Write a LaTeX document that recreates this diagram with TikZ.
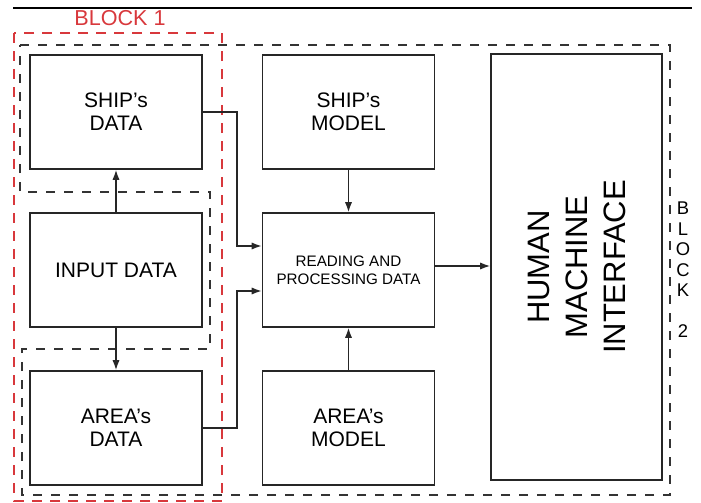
\documentclass[tikz,border=0pt]{standalone}
\usepackage{fontspec}
\setmainfont{Liberation Sans}
\usepackage{tikz}
\usetikzlibrary{%
        arrows.meta,
        positioning,
    }
\definecolor{blockred}{HTML}{D8383C}
\definecolor{dashgray}{HTML}{333333}
\tikzset{%
    datablock/.style={%
        draw=black!85,
        line width=0.8pt,
        minimum width=86pt,
        minimum height=57pt,
        align=center,
        font=\fontsize{10.5}{11.5}\selectfont,
    },
    flow/.style={%
        -{Latex[length=5pt, width=3.6pt]},
        line width=0.7pt,
        draw=black!85,
    },
    blockline/.style={%
        line width=1.05pt,
        dash pattern=on 4.5pt off 4.5pt,
    },
}

\begin{document}
\begin{tikzpicture}[x=0.5pt, y=-0.5pt]

    \useasboundingbox (0, 0) rectangle (701, 503);
    \draw[line width=0.6pt] (13, 8) -- (692, 8);

    %%%%%%%%%%
    % Blocks %
    %%%%%%%%%%
    \draw[blockline, draw=dashgray]
        (20, 45) -- (670, 45) -- (670, 495) -- (22, 495) -- (22, 349)
        -- (210, 349) -- (210, 192) -- (20, 192) -- cycle;
    \draw[blockline, draw=blockred, dash pattern=on 5pt off 4pt]
        (14, 33) rectangle (222, 501);

    \node[text=blockred, font=\fontsize{10.8}{12}\selectfont]
        (block1) at (120, 18) {BLOCK 1};
    \node[align=center, font=\fontsize{9.2}{10.25}\selectfont]
        (block2) at (683, 270) {B\\L\\O\\C\\K\\[10.25pt]2};

    %%%%%%%%%%%%%%
    % Input side %
    %%%%%%%%%%%%%%
    \node[datablock] (shipdata) at (116, 112) {SHIP's\\DATA};
    \node[datablock] (input) at (116, 270) {INPUT DATA};
    \node[datablock] (areadata) at (116, 428) {AREA's\\DATA};

    %%%%%%%%%%%%%%
    % Processing %
    %%%%%%%%%%%%%%
    \node[datablock] (shipmodel) at (348.5, 112) {SHIP's\\MODEL};
    \node[datablock, font=\fontsize{7.6}{9}\selectfont]
        (reading) at (348.5, 270) {READING AND\\PROCESSING DATA};
    \node[datablock] (areamodel) at (348.5, 428) {AREA's\\MODEL};

    \node[%
        draw=black!85,
        line width=0.8pt,
        minimum width=85.5pt,
        minimum height=213pt,
    ] (hmi) at (576.5, 267) {};
    \node[rotate=90, align=center, font=\fontsize{15.5}{19}\selectfont]
        (hmitext) at (hmi.center) {HUMAN\\MACHINE\\INTERFACE};

    %%%%%%%%%%
    % Arrows %
    %%%%%%%%%%
    \draw[flow] (input.north) -- (shipdata.south);
    \draw[flow] (input.south) -- (areadata.north);
    \draw[flow] (shipmodel.south) -- (reading.north);
    \draw[flow] (areamodel.north) -- (reading.south);
    \draw[flow] (shipdata.east) -- ++(17pt, 0)
        |- ([yshift=12pt] reading.west);
    \draw[flow] (areadata.east) -- ++(17pt, 0)
        |- ([yshift=-10.5pt] reading.west);
    \draw[flow] ([yshift=2pt] reading.east) -- ([yshift=2pt] reading.east -| hmi.west);

\end{tikzpicture}
\end{document}
